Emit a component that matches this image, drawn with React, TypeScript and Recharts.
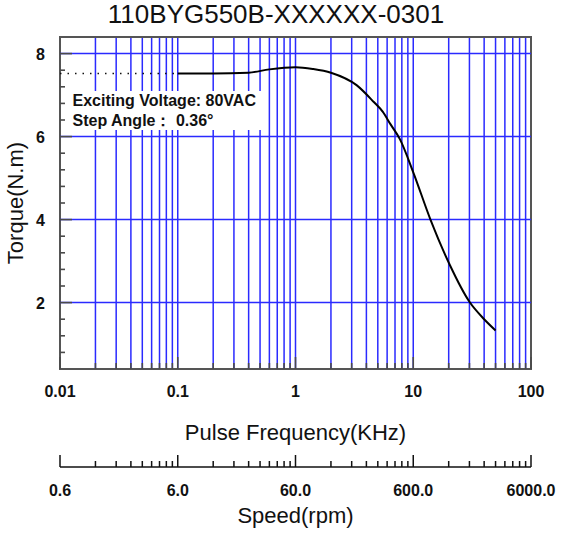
import {
  LineChart,
  Line,
  XAxis,
  YAxis,
  CartesianGrid,
  ReferenceLine,
  ReferenceArea,
} from "recharts";

// torque curve (KHz -> N.m)
const FREQ = [0.1, 0.2, 0.4, 0.6, 1, 1.4, 2, 3.3, 4.6, 5.5, 6.4, 7.7, 10, 14, 20.5, 30, 40, 50];
const TORQUE = [7.52, 7.52, 7.54, 7.62, 7.67, 7.63, 7.54, 7.24, 6.84, 6.6, 6.3, 5.94, 5.14, 4.0, 2.9, 2.02, 1.6, 1.33];

// dotted lead-in on the left
const LEAD_FREQ = [0.01, 0.1];
const LEAD_TORQUE = [7.52, 7.52];

const FREQ_MAJOR = [0.01, 0.1, 1, 10, 100];
const FREQ_LABELS = ["0.01", "0.1", "1", "10", "100"];

// speed scale sits under the frequency scale (1 KHz = 60 rpm at 0.36°/step)
const SPEED_LABELS = ["0.6", "6.0", "60.0", "600.0", "6000.0"];

const TORQUE_MAJOR = [2, 4, 6, 8];
const TORQUE_LABELS = ["2", "4", "6", "8"];

const TITLE = "110BYG550B-XXXXXX-0301";
const NOTE_LINES = ["Exciting Voltage: 80VAC", "Step Angle： 0.36°"];

const FONT = '"Liberation Sans", Arial, sans-serif';
const GRID_BLUE = "#2a2aff";
const TICK_GRAY = "#4a4a4a";

// log minor ticks: 1..9 x each decade
function logTicks(majors: number[]): number[] {
  const out: number[] = [];
  majors.slice(0, -1).forEach((m) => {
    for (let k = 1; k < 10; k++) out.push(m * k);
  });
  out.push(majors[majors.length - 1]);
  return out;
}

const FREQ_TICKS = logTicks(FREQ_MAJOR);
const TORQUE_TICKS = Array.from({ length: 19 }, (_, i) => +(0.8 + i * 0.4).toFixed(1));

const curve = FREQ.map((f, i) => ({ f, t: TORQUE[i] }));
const lead = LEAD_FREQ.map((f, i) => ({ f, t: LEAD_TORQUE[i] }));

function majorIndex(v: number, majors: number[]) {
  return majors.findIndex((m) => Math.abs(m - v) / m < 1e-6);
}

const labelStyle = { fontSize: 16, fontWeight: "bold" as const, fontFamily: FONT, fill: "#111" };

function FreqTick(props: any) {
  const { x, y, payload } = props;
  const idx = majorIndex(payload.value, FREQ_MAJOR);
  const major = idx >= 0;
  return (
    <g>
      <line x1={x} x2={x} y1={y} y2={y - (major ? 12 : 6)} stroke={TICK_GRAY} strokeWidth={1.6} />
      {major && (
        <text x={x} y={y + 28} textAnchor="middle" {...labelStyle}>
          {FREQ_LABELS[idx]}
        </text>
      )}
    </g>
  );
}

function SpeedTick(props: any) {
  const { x, y, payload } = props;
  const idx = majorIndex(payload.value, FREQ_MAJOR);
  const major = idx >= 0;
  return (
    <g>
      <line x1={x} x2={x} y1={y} y2={y - (major ? 12 : 6)} stroke="#111" strokeWidth={1.5} />
      {major && (
        <text x={x} y={y + 29} textAnchor="middle" {...labelStyle}>
          {SPEED_LABELS[idx]}
        </text>
      )}
    </g>
  );
}

function TorqueTick(props: any) {
  const { x, y, payload } = props;
  const idx = majorIndex(payload.value, TORQUE_MAJOR);
  const major = idx >= 0;
  return (
    <g>
      <line x1={x} x2={x + (major ? 12 : 5)} y1={y} y2={y} stroke={TICK_GRAY} strokeWidth={1.6} />
      {major && (
        <text x={x - 15} y={y + 6} textAnchor="end" {...labelStyle}>
          {TORQUE_LABELS[idx]}
        </text>
      )}
    </g>
  );
}

export default function App() {
  return (
    <div style={{ position: "absolute", left: 0, top: 0, width: 561, height: 535, background: "#fff" }}>
      <LineChart width={561} height={535} margin={{ top: 37, right: 30, bottom: 0, left: 0 }}>
        <CartesianGrid horizontal={false} stroke={GRID_BLUE} strokeWidth={1.5} />
        {TORQUE_MAJOR.map((v) => (
          <ReferenceLine key={v} y={v} stroke={GRID_BLUE} strokeWidth={1.5} />
        ))}
        <XAxis
          dataKey="f"
          type="number"
          scale="log"
          domain={[0.01, 100]}
          allowDataOverflow
          ticks={FREQ_TICKS}
          interval={0}
          tickLine={false}
          tickSize={0}
          tickMargin={0}
          axisLine={false}
          tick={<FreqTick />}
          height={98}
          label={{
            value: "Pulse Frequency(KHz)",
            position: "insideBottom",
            offset: 27,
            style: { fontSize: 22, fontFamily: FONT, fill: "#111" },
          }}
        />
        <XAxis
          xAxisId="speed"
          dataKey="f"
          type="number"
          scale="log"
          domain={[0.01, 100]}
          allowDataOverflow
          ticks={FREQ_TICKS}
          interval={0}
          tickLine={false}
          tickSize={0}
          tickMargin={0}
          axisLine={{ stroke: "#111", strokeWidth: 1.5 }}
          tick={<SpeedTick />}
          height={68}
          label={{
            value: "Speed(rpm)",
            position: "insideBottom",
            offset: 12,
            style: { fontSize: 22, fontFamily: FONT, fill: "#111" },
          }}
        />
        <YAxis
          type="number"
          domain={[0.4, 8.4]}
          allowDataOverflow
          ticks={TORQUE_TICKS}
          interval={0}
          tickLine={false}
          tickSize={0}
          tickMargin={0}
          axisLine={false}
          tick={<TorqueTick />}
          width={60}
          label={{
            value: "Torque(N.m)",
            angle: -90,
            position: "insideLeft",
            offset: 15,
            style: { fontSize: 22, fontFamily: FONT, fill: "#111", textAnchor: "middle" },
          }}
        />
        <ReferenceArea x1={0.01} x2={100} y1={0.4} y2={8.4} fill="none" stroke="#555" strokeWidth={2} />
        <Line
          xAxisId="speed"
          data={lead}
          dataKey="t"
          stroke="#111"
          strokeWidth={1.5}
          strokeDasharray="1.5 6"
          dot={false}
          isAnimationActive={false}
        />
        <Line
          data={curve}
          dataKey="t"
          type="monotone"
          stroke="#000"
          strokeWidth={2}
          dot={false}
          isAnimationActive={false}
        />
      </LineChart>
      <div
        style={{
          position: "absolute",
          left: 0,
          top: -1,
          width: 552,
          textAlign: "center",
          fontFamily: FONT,
          fontSize: 26,
          color: "#111",
        }}
      >
        {TITLE}
      </div>
      <div
        style={{
          position: "absolute",
          left: 68,
          top: 91,
          width: 195,
          height: 39,
          background: "#fff",
          fontFamily: FONT,
          fontSize: 16,
          fontWeight: "bold",
          color: "#111",
          lineHeight: "20px",
          paddingLeft: 4.5,
          boxSizing: "border-box",
          whiteSpace: "nowrap",
        }}
      >
        {NOTE_LINES.map((l) => (
          <div key={l}>{l}</div>
        ))}
      </div>
    </div>
  );
}
